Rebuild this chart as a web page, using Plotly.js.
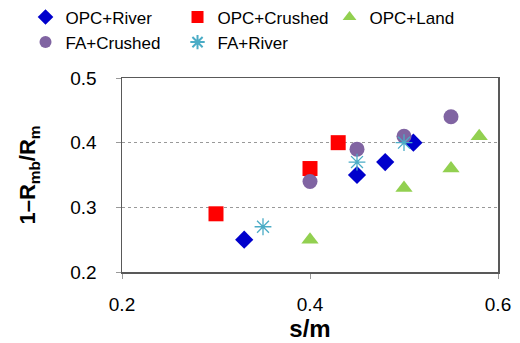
<!DOCTYPE html>
<html><head><meta charset="utf-8">
<script src="https://cdn.plot.ly/plotly-3.0.1.min.js"></script>
<style>html,body{margin:0;padding:0;background:#fff}#chart{width:520px;height:343px}</style>
</head><body><div id="chart"></div>
<script>
// Series data (s/m, 1-Rmb/Rm)
const opcRiverX = [0.33, 0.45, 0.48, 0.51];
const opcRiverY = [0.25, 0.35, 0.37, 0.40];
const opcCrushedX = [0.30, 0.40, 0.43];
const opcCrushedY = [0.29, 0.36, 0.40];
const opcLandX = [0.40, 0.50, 0.55, 0.58];
const opcLandY = [0.25, 0.33, 0.36, 0.41];
const faCrushedX = [0.40, 0.45, 0.50, 0.55];
const faCrushedY = [0.34, 0.39, 0.41, 0.44];
const faRiverX = [0.35, 0.45, 0.50];
const faRiverY = [0.27, 0.37, 0.40];
const seriesNames = ['OPC+River', 'OPC+Crushed', 'OPC+Land', 'FA+Crushed', 'FA+River'];
const xTicks = [0.2, 0.4, 0.6];
const yTicks = [0.2, 0.3, 0.4, 0.5];

const FONT = 'Liberation Sans, Arial, sans-serif';
const traces = [
  {x: opcRiverX, y: opcRiverY, name: seriesNames[0], type: 'scatter', mode: 'markers',
   marker: {symbol: 'diamond', size: 14, color: '#0000CC', line: {width: 0}}},
  {x: opcCrushedX, y: opcCrushedY, name: seriesNames[1], type: 'scatter', mode: 'markers',
   marker: {symbol: 'square', size: 15, color: '#FF0000', line: {width: 0}}},
  {x: opcLandX, y: opcLandY, name: seriesNames[2], type: 'scatter', mode: 'markers',
   marker: {symbol: 'triangle-up', size: 15, color: '#92D050', line: {width: 0}}},
  {x: faCrushedX, y: faCrushedY, name: seriesNames[3], type: 'scatter', mode: 'markers',
   marker: {symbol: 'circle', size: 15, color: '#8064A2', line: {width: 0}}},
  {x: faRiverX, y: faRiverY, name: seriesNames[4], type: 'scatter', mode: 'markers',
   marker: {symbol: 'asterisk-open', size: 14, color: '#4BACC6', line: {width: 1.3, color: '#4BACC6'}}}
];

const layout = {
  width: 520, height: 343,
  margin: {l: 122, r: 22, t: 78, b: 71, autoexpand: false},
  paper_bgcolor: '#fff', plot_bgcolor: '#fff',
  font: {family: FONT, color: '#000'},
  showlegend: true,
  legend: {orientation: 'h', x: -0.2566, y: 1.405, xanchor: 'left', yanchor: 'top',
           entrywidth: 107, entrywidthmode: 'pixels',
           font: {family: FONT, size: 17, color: '#000'}, bgcolor: 'rgba(0,0,0,0)',
           tracegroupgap: 0, itemsizing: 'constant'},
  xaxis: {range: [0.2, 0.6], tickvals: xTicks, ticktext: xTicks.map(v => v.toFixed(1)),
          showgrid: false, zeroline: false,
          showline: true, linecolor: '#595959', linewidth: 1.5, mirror: true,
          ticks: 'outside', ticklen: 5, tickcolor: '#999', tickwidth: 1,
          ticklabelstandoff: 10,
          tickfont: {family: FONT, size: 19, color: '#000'},
          title: {text: '<b>s/m</b>', font: {family: FONT, size: 24, color: '#000'}, standoff: 4}},
  yaxis: {range: [0.2, 0.5], tickvals: yTicks, ticktext: yTicks.map(v => v.toFixed(1)),
          showgrid: true, gridcolor: '#999', griddash: 'dot', gridwidth: 1, zeroline: false,
          showline: true, linecolor: '#595959', linewidth: 1.5, mirror: true,
          ticks: 'outside', ticklen: 5, tickcolor: '#999', tickwidth: 1,
          ticklabelstandoff: 15,
          tickfont: {family: FONT, size: 19, color: '#000'},
          title: {text: '<b>1–R<sub>mb</sub>/R<sub>m</sub></b>', font: {family: FONT, size: 22, color: '#000'}, standoff: 28}}
};
Plotly.newPlot('chart', traces, layout, {displayModeBar: false, staticPlot: true});
</script></body></html>
